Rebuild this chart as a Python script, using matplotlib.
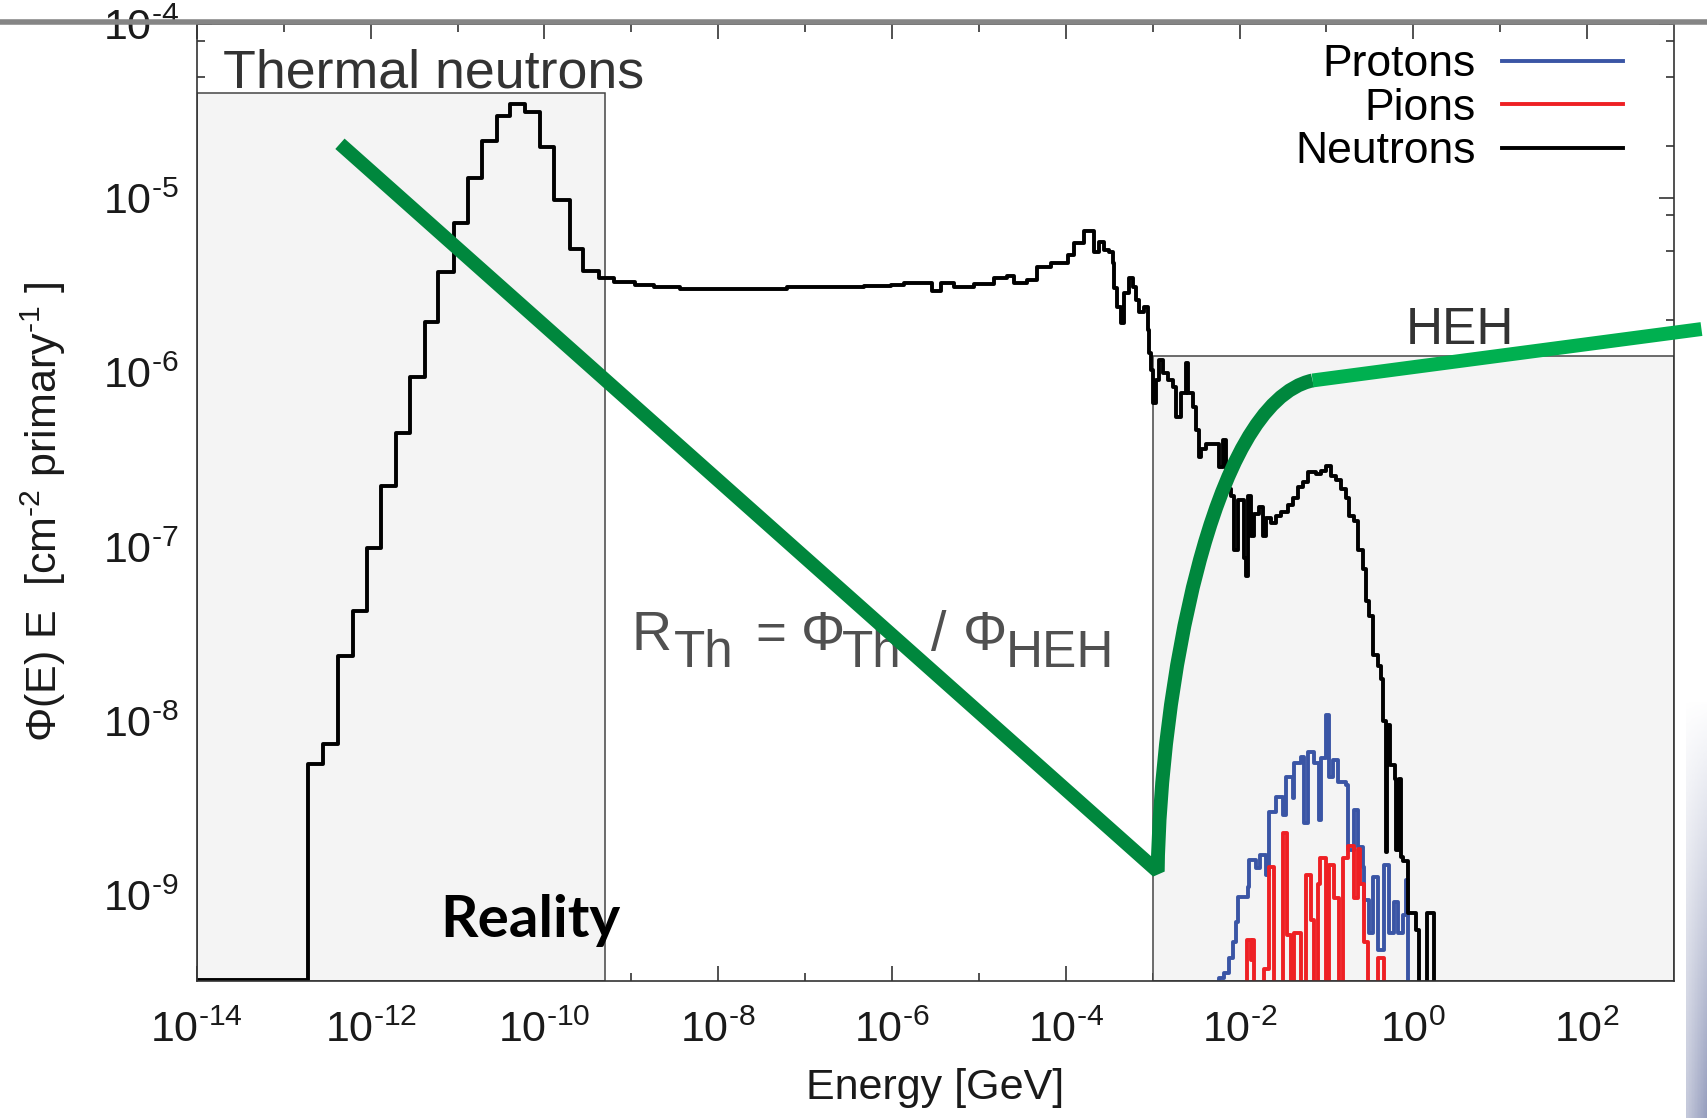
import numpy as np
import matplotlib
matplotlib.use("Agg")
import matplotlib.pyplot as plt
from matplotlib.lines import Line2D
from matplotlib.path import Path
from matplotlib.patches import PathPatch
from matplotlib.ticker import FixedLocator, FuncFormatter, NullFormatter

plt.rcParams['font.family'] = ['Liberation Sans', 'DejaVu Sans']
plt.rcParams['mathtext.fontset'] = 'custom'
plt.rcParams['mathtext.rm'] = 'Liberation Sans'
plt.rcParams['mathtext.it'] = 'Liberation Sans:italic'
plt.rcParams['mathtext.bf'] = 'Liberation Sans:bold'
plt.rcParams['mathtext.default'] = 'regular'

# ---- data (log10 of energy [GeV] = left bin edge, log10 of flux) ----
neutron_log_e = [-14.0, -12.718, -12.545, -12.372, -12.199, -12.038, -11.884, -11.707,
                 -11.551, -11.373, -11.220, -11.039, -10.881, -10.720, -10.547, -10.394,
                 -10.221, -10.048, -9.887, -9.711, -9.556, -9.377,
                 -9.204, -8.954, -8.743, -8.435, -7.206, -6.324, -6.016, -5.863, -5.632,
                 -5.536, -5.440, -5.287, -5.056, -4.826, -4.672, -4.596, -4.442, -4.326,
                 -4.170, -3.980, -3.904, -3.789, -3.674, -3.616, -3.560, -3.501, -3.462,
                 -3.443, -3.405, -3.367, -3.328, -3.271, -3.232, -3.194, -3.156, -3.098,
                 -3.059, -3.040, -3.021, -3.001, -2.963, -2.925, -2.886, -2.828, -2.771,
                 -2.733, -2.675, -2.618, -2.598, -2.540, -2.502, -2.464, -2.445, -2.387,
                 -2.234, -2.195, -2.157, -2.099, -2.061, -2.022, -1.946, -1.926, -1.907,
                 -1.869, -1.831, -1.773, -1.734, -1.696, -1.638, -1.581, -1.523, -1.446,
                 -1.389, -1.331, -1.273, -1.216, -1.120, -1.062, -1.005, -0.947, -0.889,
                 -0.832, -0.774, -0.736, -0.679, -0.640, -0.582, -0.544, -0.506, -0.467,
                 -0.409, -0.371, -0.345, -0.318, -0.300, -0.265, -0.215, -0.195, -0.160,
                 -0.140, -0.121, -0.064, 0.032, 0.070, 0.159, 0.236]
neutron_log_flux = [-9.485, -8.247, -8.131, -7.628, -7.368, -7.007, -6.648, -6.348,
                    -6.024, -5.711, -5.421, -5.143, -4.885, -4.671, -4.526, -4.461,
                    -4.507, -4.707, -5.010, -5.293, -5.415, -5.459,
                    -5.480, -5.497, -5.511, -5.522, -5.511, -5.501, -5.497, -5.484, -5.487,
                    -5.530, -5.487, -5.511, -5.490, -5.459, -5.446, -5.484, -5.470, -5.392,
                    -5.370, -5.325, -5.258, -5.190, -5.306, -5.249, -5.297, -5.306, -5.371,
                    -5.515, -5.622, -5.717, -5.545, -5.459, -5.507, -5.584, -5.651, -5.622,
                    -5.756, -5.889, -5.985, -6.176, -6.042, -5.928, -6.004, -6.042, -6.081,
                    -6.253, -6.119, -5.947, -6.119, -6.196, -6.329, -6.483, -6.438, -6.407,
                    -6.540, -6.386, -6.667, -6.708, -7.018, -6.729, -7.062, -7.166, -6.708,
                    -6.937, -6.812, -6.771, -6.937, -6.833, -6.865, -6.823, -6.802, -6.760,
                    -6.720, -6.656, -6.625, -6.573, -6.583, -6.563, -6.538, -6.594, -6.615,
                    -6.667, -6.720, -6.823, -6.854, -7.020, -7.125, -7.310, -7.395, -7.623,
                    -7.686, -7.760, -8.000, -8.750, -8.020, -8.250, -8.330, -8.740, -8.330,
                    -8.780, -8.800, -9.100, -9.200, -12.0, -9.100, -12.0]

proton_log_e = [-3.0, -2.234, -2.176, -2.118, -2.080, -2.041, -2.022, -1.907, -1.888,
                -1.811, -1.761, -1.696, -1.658, -1.581, -1.504, -1.465, -1.389, -1.369,
                -1.293, -1.254, -1.216, -1.139, -1.082, -1.062, -1.005, -0.966, -0.928,
                -0.870, -0.774, -0.755, -0.679, -0.640, -0.582, -0.563, -0.506, -0.467,
                -0.409, -0.333, -0.275, -0.217, -0.179, -0.121, -0.083, -0.056]
proton_log_flux = [-12.0, -9.475, -9.447, -9.360, -9.265, -9.150, -9.007, -8.950, -8.796,
                   -8.844, -8.768, -8.882, -8.519, -8.433, -8.538, -8.318, -8.442, -8.242,
                   -8.204, -8.586, -8.175, -8.242, -8.567, -8.213, -7.964, -8.318, -8.223,
                   -8.347, -8.366, -8.739, -8.510, -8.720, -8.835, -9.026, -9.217, -8.892,
                   -9.313, -8.825, -9.217, -9.035, -9.217, -9.112, -8.911, -12.0]

pion_log_e = [-2.5, -1.915, -1.869, -1.850, -1.831, -1.723, -1.658, -1.608, -1.504,
              -1.454, -1.408, -1.369, -1.293, -1.235, -1.177, -1.139, -1.100, -1.074,
              -1.005, -0.966, -0.916, -0.851, -0.812, -0.755, -0.679, -0.640, -0.609,
              -0.563, -0.525, -0.409, -0.333]
pion_log_flux = [-12.0, -9.255, -9.369, -9.255, -12.0, -9.421, -8.839, -12.0, -8.641,
                 -9.224, -12.0, -9.213, -12.0, -8.880, -9.141, -12.0, -8.933, -8.783,
                 -12.0, -8.825, -9.016, -12.0, -8.783, -8.714, -9.016, -8.735, -8.933,
                 -9.265, -12.0, -9.359, -12.0]

# shaded regions
thermal_box_e = [1e-14, 5.0e-10]
thermal_box_top = 4.0e-5
heh_box_e = [1e-3, 1e3]
heh_box_top = 1.245e-6

# green overlay sketch (log10 values): straight drop, then a smooth rise, then slow climb
green_drop_log_e = [-12.354, -2.942]
green_drop_log_flux = [-4.687, -8.862]
green_rise_log_e = [-2.917, -2.340, -1.160]      # bezier control points + end
green_rise_log_flux = [-7.862, -6.174, -6.045]
green_light_log_e = [-1.160, 3.316]
green_light_log_flux = [-6.045, -5.750]

x_major = [1e-14, 1e-12, 1e-10, 1e-8, 1e-6, 1e-4, 1e-2, 1e0, 1e2]
x_minor = [1e-13, 1e-11, 1e-9, 1e-7, 1e-5, 1e-3, 1e-1, 1e1]
y_major = [1e-9, 1e-8, 1e-7, 1e-6, 1e-5, 1e-4]
y_minor = [m * 10.0 ** d for d in range(-10, -4) for m in (2, 5, 8)]

ylo, yhi = 3.21e-10, 1e-4

fig = plt.figure(figsize=(17.08, 11.18), dpi=100)
ax = fig.add_axes([0.1153, 0.1221, 0.8648, 0.8564])
ax.set_xscale('log')
ax.set_yscale('log')
ax.set_xlim(1e-14, 1e3)
ax.set_ylim(ylo, yhi)
ax.set_axisbelow(True)

# gray boxes
for (e0, e1), top in [(thermal_box_e, thermal_box_top), (heh_box_e, heh_box_top)]:
    ax.fill([e0, e1, e1, e0], [ylo, ylo, top, top], facecolor='#f4f4f4',
            edgecolor='#444444', lw=1.1, zorder=1)


def draw_steps(log_e, log_f, color, label, end=3.0):
    x = 10.0 ** np.append(log_e, end)
    y = 10.0 ** np.append(log_f, log_f[-1])
    ax.step(x, y, where='post', color=color, lw=2.8, label=label, zorder=2)


draw_steps(proton_log_e, proton_log_flux, '#3a55a5', 'Protons')
draw_steps(pion_log_e, pion_log_flux, '#ee2024', 'Pions')
draw_steps(neutron_log_e, neutron_log_flux, 'black', 'Neutrons')

# green sketch on top (drop + bezier rise as one path)
verts = 10.0 ** np.column_stack([green_drop_log_e + green_rise_log_e,
                                 green_drop_log_flux + green_rise_log_flux])
codes = [Path.MOVETO, Path.LINETO, Path.CURVE4, Path.CURVE4, Path.CURVE4]
ax.add_patch(PathPatch(Path(verts, codes), facecolor='none', edgecolor='#00873d',
                       lw=10, capstyle='butt', joinstyle='bevel', zorder=6,
                       clip_on=False))
ax.plot(10.0 ** np.array(green_light_log_e), 10.0 ** np.array(green_light_log_flux),
        color='#00b050', lw=10, solid_capstyle='butt', zorder=7, clip_on=False)


# ticks
def log_label(v, pos):
    e = int(round(np.log10(v)))
    if e < 0:
        return r'$\mathdefault{10^{\text{-}%d}}$' % (-e)
    return r'$\mathdefault{10^{%d}}$' % e


ax.xaxis.set_major_locator(FixedLocator(x_major))
ax.xaxis.set_minor_locator(FixedLocator(x_minor))
ax.yaxis.set_major_locator(FixedLocator(y_major))
ax.yaxis.set_minor_locator(FixedLocator(y_minor))
ax.xaxis.set_major_formatter(FuncFormatter(log_label))
ax.yaxis.set_major_formatter(FuncFormatter(log_label))
ax.xaxis.set_minor_formatter(NullFormatter())
ax.yaxis.set_minor_formatter(NullFormatter())
ax.tick_params(which='both', direction='in', top=True, right=True,
               color='#222222', width=1.1, labelsize=31, labelcolor='#1a1a1a')
ax.tick_params(which='major', length=11)
ax.tick_params(which='minor', length=5.5)
ax.tick_params(axis='x', pad=21)
ax.tick_params(axis='y', pad=13)
for sp in ax.spines.values():
    sp.set_color('#333333')
    sp.set_linewidth(1.2)

ax.set_xlabel('Energy [GeV]', fontsize=31, color='#1a1a1a')
ax.xaxis.set_label_coords(0.5, -0.09)
ax.set_ylabel(r'$\Phi$(E) E  [cm$^{\text{-}2}$ primary$^{\text{-}1}$ ]', fontsize=31,
              color='#1a1a1a')
ax.yaxis.set_label_coords(-0.087, 0.49)

ax.legend(loc='upper right', bbox_to_anchor=(0.9655, 0.979), markerfirst=False,
          frameon=False, fontsize=32, handlelength=2.72, handletextpad=0.6,
          labelspacing=0.06, borderpad=0, borderaxespad=0)

ax.text(0.0176, 0.934, 'Thermal neutrons', transform=ax.transAxes, fontsize=38.7,
        color='#333333', va='baseline')
ax.text(0.855, 0.666, 'HEH', transform=ax.transAxes, fontsize=37,
        color='#333333', va='baseline', ha='center')

# R_Th = Phi_Th / Phi_HEH, laid out piece by piece (offsets in points)
formula = [('R', 0, 0, 40), ('Th', 30, -12, 37), ('=', 89, 0, 38), (r'$\Phi$', 121, 0, 40),
           ('Th', 151, -12, 37), ('/', 215, 0, 40), (r'$\Phi$', 238, 0, 40),
           ('HEH', 269, -12, 37)]
for s, dx, dy, fs in formula:
    ax.annotate(s, xy=(0.2945, 0.346), xycoords='axes fraction', xytext=(dx, dy),
                textcoords='offset points', fontsize=fs, color='#505050',
                va='baseline', ha='left', zorder=5)

ax.text(0.165, 0.0465, 'Reality', transform=ax.transAxes, fontsize=42,
        fontfamily='Lato', fontweight='bold', color='black', va='baseline', zorder=8)

# slide decorations: grey rule on top, shaded strip at right
fig.add_artist(Line2D([0, 1], [0.9800, 0.9800], transform=fig.transFigure,
                      color='#858585', lw=4, zorder=10))
strip = fig.add_axes([0.987, 0.0, 0.013, 0.377])
strip.axis('off')
fade = np.linspace(0.0, 1.0, 60)[:, None] * np.linspace(0.55, 1.0, 8)[None, :]
rgba = np.zeros((60, 8, 4))
rgba[..., 0] = 0.58
rgba[..., 1] = 0.61
rgba[..., 2] = 0.74
rgba[..., 3] = fade
strip.imshow(rgba, aspect='auto', origin='upper', extent=[0, 1, 0, 1])

fig.savefig('out.png', dpi=100)
